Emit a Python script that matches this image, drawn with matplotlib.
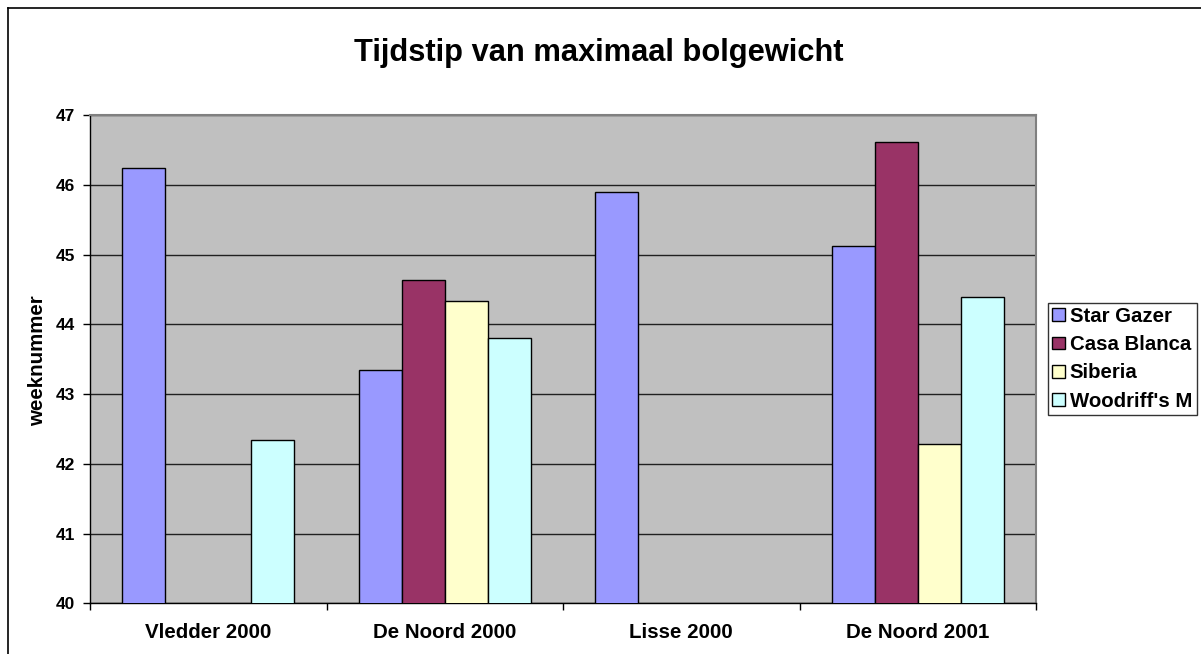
import numpy as np
import matplotlib
matplotlib.use('Agg')
import matplotlib.pyplot as plt
from matplotlib.lines import Line2D

# Data
locaties = ['Vledder 2000', 'De Noord 2000', 'Lisse 2000', 'De Noord 2001']
rassen = ['Star Gazer', 'Casa Blanca', 'Siberia', "Woodriff's M"]
star_gazer = [46.24, 43.35, 45.90, 45.12]
casa_blanca = [np.nan, 44.64, np.nan, 46.61]
siberia = [np.nan, 44.33, np.nan, 42.29]
woodriffs = [42.34, 43.80, np.nan, 44.39]
yticks = [40, 41, 42, 43, 44, 45, 46, 47]

series = [star_gazer, casa_blanca, siberia, woodriffs]
colors = ['#9999FF', '#993366', '#FFFFCC', '#CCFFFF']

plt.rcParams['font.family'] = ['Liberation Sans', 'DejaVu Sans']
plt.rcParams['font.weight'] = 'bold'

W, H = 1201, 654
fig = plt.figure(figsize=(W / 100, H / 100), dpi=100)
ax = fig.add_axes([90 / W, 1 - 603.3 / H, (1036 - 90) / W, (603.3 - 115) / H])
ax.set_facecolor('#C0C0C0')

# Excel style: gap width 150% -> each bar is 1/5.5 of a category
w = 1 / 5.5
x = np.arange(len(locaties))
for i, (vals, c, lab) in enumerate(zip(series, colors, rassen)):
    ax.bar(x + (i - 1.5) * w, vals, width=w, color=c, edgecolor='black',
           linewidth=1, label=lab, zorder=3)

ax.set_xlim(-0.5, len(locaties) - 0.5)
ax.set_ylim(40, 47)
ax.set_yticks(yticks)
ax.set_yticklabels([str(t) for t in yticks], fontsize=12.5, fontweight='bold')
ax.yaxis.grid(True, color='#202020', linewidth=1, zorder=1)
ax.set_axisbelow(True)
ax.tick_params(axis='y', direction='out', length=5, width=1, pad=6)

ax.set_xticks(x)
ax.set_xticklabels(locaties, fontsize=14.8, fontweight='bold')
ax.set_xticks(np.arange(-0.5, len(locaties)), minor=True)
ax.tick_params(axis='x', which='major', length=0, pad=14)
ax.tick_params(axis='x', which='minor', direction='out', length=5, width=1)

for s in ['top', 'right']:
    ax.spines[s].set_color('#808080')
    ax.spines[s].set_linewidth(1.5)
for s in ['left', 'bottom']:
    ax.spines[s].set_color('black')
    ax.spines[s].set_linewidth(1)

fig.text(37.5 / W, 1 - 361 / H, 'weeknummer', rotation=90, ha='center', va='center',
         fontsize=14.8, fontweight='bold')
fig.text(599 / W, 1 - 61 / H, 'Tijdstip van maximaal bolgewicht', ha='center',
         va='baseline', fontsize=22.2, fontweight='bold')

leg = fig.legend(loc='upper left', bbox_to_anchor=(1048 / W, 1 - 302.5 / H),
                 prop={'weight': 'bold', 'size': 14.7},
                 frameon=True, fancybox=False, shadow=False, borderaxespad=0,
                 handlelength=0.6, handleheight=0.6, handletextpad=0.25,
                 labelspacing=0.45, borderpad=0.22)
leg.get_frame().set_edgecolor('black')
leg.get_frame().set_linewidth(1)

# chart area border (cut off at right and bottom in the reference)
fig.add_artist(Line2D([8 / W, 8 / W], [0, 1 - 8 / H], color='black', linewidth=1.2,
                      transform=fig.transFigure))
fig.add_artist(Line2D([8 / W, 1], [1 - 8 / H, 1 - 8 / H], color='black', linewidth=1.2,
                      transform=fig.transFigure))

fig.savefig('out.png', dpi=100)
